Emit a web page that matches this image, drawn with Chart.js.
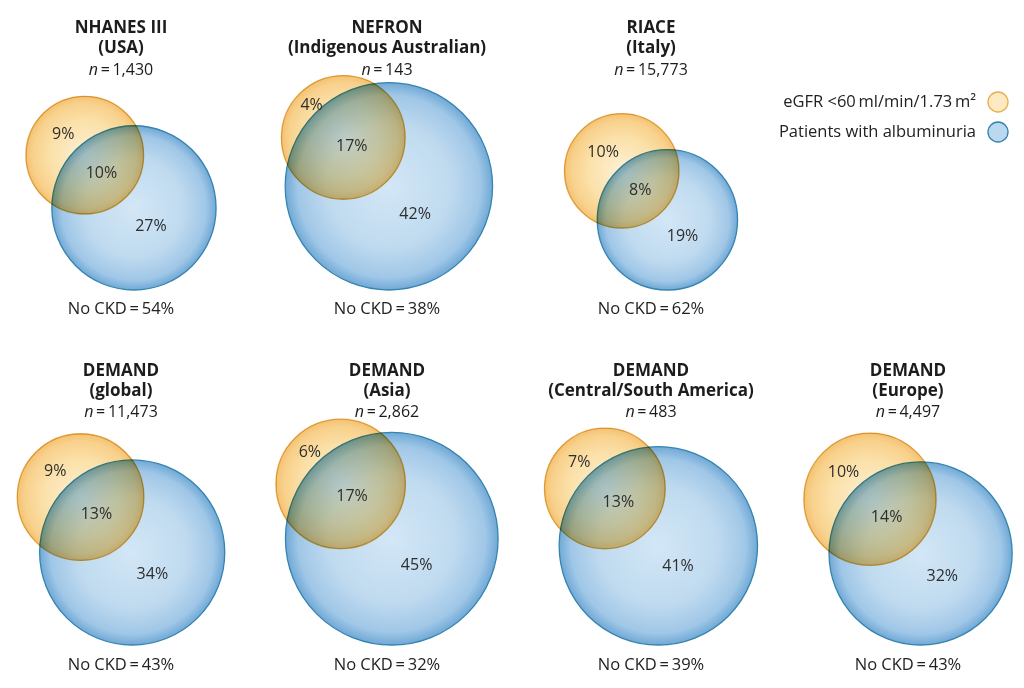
<!DOCTYPE html>
<html>
<head>
<meta charset="utf-8">
<script src="https://cdn.jsdelivr.net/npm/chart.js@4/dist/chart.umd.min.js"></script>
<style>
html,body{margin:0;padding:0;background:#fff;overflow:hidden}
#wrap{width:1024px;height:688px;position:relative}
</style>
</head>
<body>
<div id="wrap"><canvas id="c" width="1024" height="688"></canvas></div>
<script>
// ---------------- DATA ----------------
const studies = ['NHANES III', 'NEFRON', 'RIACE', 'DEMAND', 'DEMAND', 'DEMAND', 'DEMAND'];
const regions = ['(USA)', '(Indigenous Australian)', '(Italy)', '(global)', '(Asia)', '(Central/South America)', '(Europe)'];
const sampleSizes = ['1,430', '143', '15,773', '11,473', '2,862', '483', '4,497'];
const eGFROnlyPct = [9, 4, 10, 9, 6, 7, 10];          // eGFR <60 only
const bothPct = [10, 17, 8, 13, 17, 13, 14];          // overlap
const albuminuriaOnlyPct = [27, 42, 19, 34, 45, 41, 32];
const noCKDPct = [54, 38, 62, 43, 32, 39, 43];
const seriesLabels = ['eGFR <60\u2009ml/min/1.73\u2009m\u00B2', 'Patients with albuminuria'];

// ---------------- LAYOUT / STYLE ----------------
const FONT = "'Open Sans', 'DejaVu Sans', sans-serif";
const PANEL_X = [121, 387, 651, 121, 387, 651, 908];
const PANEL_ROW = [0, 0, 0, 1, 1, 1, 1];
const ROW_BASELINE = [290, 645];
const ROW_TITLE_Y = [[28, 48, 70], [371, 391, 412]];
const ROW_NOCKD_Y = [309, 665];
const AREA_K = 13.5;                 // scale units per sqrt(%)
const OFFSET_ANGLE = 47 * Math.PI / 180;
const BLUE_STOPS = [[0, '#d3e7f6'], [0.6, '#bfdaef'], [0.88, '#a0c7e7'], [1, '#70a9d6']];
const YELLOW_STOPS = [[0, '#fdf1d6'], [0.6, '#fbe0a8'], [0.88, '#f8d18c'], [1, '#f4c272']];
const BLUE_STROKE = '#3584b0';
const YELLOW_STROKE = '#e4ad4a';

// ---------------- GEOMETRY derived from the percentages ----------------
function lensArea(r1, r2, d) {
  if (d >= r1 + r2) return 0;
  if (d <= Math.abs(r1 - r2)) return Math.PI * Math.min(r1, r2) ** 2;
  const a = r1 * r1 * Math.acos((d * d + r1 * r1 - r2 * r2) / (2 * d * r1));
  const b = r2 * r2 * Math.acos((d * d + r2 * r2 - r1 * r1) / (2 * d * r2));
  const c = 0.5 * Math.sqrt((-d + r1 + r2) * (d + r1 - r2) * (d - r1 + r2) * (d + r1 + r2));
  return a + b - c;
}
function solveDistance(r1, r2, target) {
  let lo = Math.abs(r1 - r2), hi = r1 + r2;
  for (let i = 0; i < 80; i++) {
    const m = (lo + hi) / 2;
    if (lensArea(r1, r2, m) > target) lo = m; else hi = m;
  }
  return (lo + hi) / 2;
}
const geo = studies.map((_, i) => {
  const ry = AREA_K * Math.sqrt(eGFROnlyPct[i] + bothPct[i]);
  const rb = AREA_K * Math.sqrt(bothPct[i] + albuminuriaOnlyPct[i]);
  const d = solveDistance(ry, rb, Math.PI * AREA_K * AREA_K * bothPct[i]);
  const ux = Math.cos(OFFSET_ANGLE), uy = Math.sin(OFFSET_ANGLE);
  const yx0 = -d * ux, yy0 = -d * uy;
  const left = Math.min(yx0 - ry, -rb), right = Math.max(yx0 + ry, rb);
  const bx = PANEL_X[i] - (left + right) / 2;
  const by = ROW_BASELINE[PANEL_ROW[i]] - rb;
  return { bx, by, rb, yx: bx + yx0, yy: by + yy0, ry, ux, uy };
});

function radialFill(stops) {
  return (c) => {
    const raw = c.raw;
    const sx = c.chart.scales && c.chart.scales.x, sy = c.chart.scales && c.chart.scales.y;
    if (!raw || !sx || !sy) return stops[1][1];
    const px = sx.getPixelForValue(raw.x), py = sy.getPixelForValue(raw.y);
    const pr = Math.abs(sx.getPixelForValue(raw.x + raw.r) - px);
    if (!isFinite(px) || !isFinite(py) || !isFinite(pr) || pr <= 0) return stops[1][1];
    const g = c.chart.ctx.createRadialGradient(px, py, 0, px, py, pr);
    stops.forEach(s => g.addColorStop(s[0], s[1]));
    return g;
  };
}
function radiusFromScale(c) {
  const raw = c.raw;
  const sx = c.chart.scales && c.chart.scales.x;
  if (!raw || !sx) return 0;
  const v = Math.abs(sx.getPixelForValue(raw.x + raw.r) - sx.getPixelForValue(raw.x));
  return isFinite(v) ? v : 0;
}

const blendPlugin = {
  id: 'blend',
  beforeDraw(chart) {
    const ctx = chart.ctx;
    ctx.save();
    ctx.fillStyle = '#ffffff';
    ctx.fillRect(0, 0, chart.width, chart.height);
    ctx.restore();
  },
  beforeDatasetDraw(chart, args) {
    if (chart.data.datasets[args.index].blendMultiply) chart.ctx.globalCompositeOperation = 'multiply';
  },
  afterDatasetDraw(chart) {
    chart.ctx.globalCompositeOperation = 'source-over';
  }
};

const textPlugin = {
  id: 'texts',
  afterDraw(chart) {
    const ctx = chart.ctx;
    const sx = chart.scales.x, sy = chart.scales.y;
    const P = (x, y) => [sx.getPixelForValue(x), sy.getPixelForValue(y)];
    ctx.save();
    ctx.textAlign = 'center';
    ctx.textBaseline = 'middle';
    studies.forEach((name, i) => {
      const row = PANEL_ROW[i];
      const cx = PANEL_X[i];
      const ty = ROW_TITLE_Y[row];
      ctx.fillStyle = '#1c1c1c';
      ctx.font = 'bold 17px ' + FONT;
      ctx.textAlign = 'center';
      ctx.fillText(name, ...P(cx, ty[0]));
      ctx.fillText(regions[i], ...P(cx, ty[1]));
      ctx.font = 'italic 16px ' + FONT;
      const nW = ctx.measureText('n').width;
      ctx.font = '16px ' + FONT;
      const rest = '\u2009=\u2009' + sampleSizes[i];
      const rW = ctx.measureText(rest).width;
      const [nx, ny] = P(cx, ty[2]);
      const start = nx - (nW + rW) / 2;
      ctx.textAlign = 'left';
      ctx.font = 'italic 16px ' + FONT;
      ctx.fillText('n', start, ny);
      ctx.font = '16px ' + FONT;
      ctx.fillText(rest, start + nW, ny);
      ctx.textAlign = 'center';
      ctx.fillStyle = '#222';
      ctx.font = '16.5px ' + FONT;
      ctx.fillText('No CKD\u2009=\u2009' + noCKDPct[i] + '%', ...P(cx, ROW_NOCKD_Y[row]));
      const g = geo[i];
      const A = [g.yx - g.ry * g.ux, g.yy - g.ry * g.uy];
      const B = [g.bx - g.rb * g.ux, g.by - g.rb * g.uy];
      const C = [g.yx + g.ry * g.ux, g.yy + g.ry * g.uy];
      const D = [g.bx + g.rb * g.ux, g.by + g.rb * g.uy];
      ctx.fillStyle = '#2e2e2e';
      ctx.font = '16px ' + FONT;
      ctx.fillText(eGFROnlyPct[i] + '%', ...P((A[0] + B[0]) / 2 + 2, (A[1] + B[1]) / 2 + 4));
      ctx.fillText(bothPct[i] + '%', ...P((B[0] + C[0]) / 2, (B[1] + C[1]) / 2));
      ctx.fillText(albuminuriaOnlyPct[i] + '%', ...P(C[0] + 0.4 * (D[0] - C[0]), C[1] + 0.4 * (D[1] - C[1])));
    });
    const legend = [
      { label: seriesLabels[0], y: 102, fill: '#fde9c2', stroke: '#e7b04a' },
      { label: seriesLabels[1], y: 132, fill: '#bcd8ef', stroke: BLUE_STROKE }
    ];
    legend.forEach(item => {
      ctx.font = '16.5px ' + FONT;
      ctx.fillStyle = '#222';
      ctx.textAlign = 'right';
      ctx.fillText(item.label, 976, item.y);
      ctx.beginPath();
      ctx.arc(998, item.y, 10, 0, Math.PI * 2);
      ctx.fillStyle = item.fill;
      ctx.fill();
      ctx.lineWidth = 1.3;
      ctx.strokeStyle = item.stroke;
      ctx.stroke();
    });
    ctx.restore();
  }
};

new Chart(document.getElementById('c'), {
  type: 'scatter',
  data: {
    datasets: [
      {
        label: seriesLabels[1],
        data: geo.map(g => ({ x: g.bx, y: g.by, r: g.rb })),
        pointRadius: radiusFromScale,
        pointBackgroundColor: radialFill(BLUE_STOPS),
        pointBorderColor: BLUE_STROKE,
        pointBorderWidth: 1.3,
        order: 2,
        clip: false
      },
      {
        label: seriesLabels[0],
        data: geo.map(g => ({ x: g.yx, y: g.yy, r: g.ry })),
        pointRadius: radiusFromScale,
        pointBackgroundColor: radialFill(YELLOW_STOPS),
        pointBorderColor: YELLOW_STROKE,
        pointBorderWidth: 1.3,
        blendMultiply: true,
        order: 1,
        clip: false
      }
    ]
  },
  options: {
    responsive: false,
    animation: false,
    events: [],
    devicePixelRatio: 1,
    layout: { padding: 0 },
    scales: {
      x: { type: 'linear', min: 0, max: 1024, display: false },
      y: { type: 'linear', min: 0, max: 688, reverse: true, display: false }
    },
    plugins: { legend: { display: false }, tooltip: { enabled: false } }
  },
  plugins: [blendPlugin, textPlugin]
});
</script>
</body>
</html>
